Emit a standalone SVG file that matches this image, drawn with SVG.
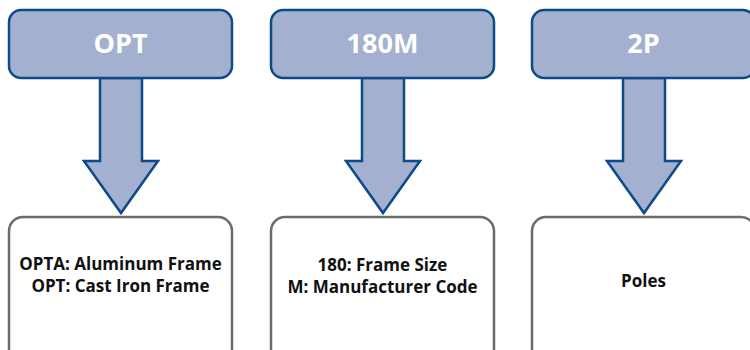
<svg xmlns="http://www.w3.org/2000/svg" width="750" height="350" viewBox="0 0 750 350">
  <style>
    .head { fill: #a3b0cf; stroke: #0c4a89; stroke-width: 2.5; }
    .arrow { fill: #a3b0cf; stroke: #0c4a89; stroke-width: 2.5; stroke-linejoin: miter; }
    .card { fill: #ffffff; stroke: #6b6b6b; stroke-width: 2.5; }
    .code { font-family: "Open Sans", "Liberation Sans", sans-serif; font-weight: bold; font-size: 27px; fill: #ffffff; text-anchor: middle; }
    .desc { font-family: "Open Sans", "Liberation Sans", sans-serif; font-weight: bold; font-size: 17px; fill: #111111; text-anchor: middle; }
  </style>
  <rect width="750" height="350" fill="#ffffff"/>

  <!-- arrows linking code headers to their description cards -->
  <g id="connectors">
    <polygon class="arrow" points="100,78 142,78 142,161 158,161 121,213 84,161 100,161"/>
    <polygon class="arrow" points="362,78 404,78 404,161 420,161 383,213 346,161 362,161"/>
    <polygon class="arrow" points="623,78 665,78 665,161 681,161 644,213 607,161 623,161"/>
  </g>

  <g id="code-opt">
    <rect class="head" x="9" y="10" width="223" height="68" rx="12"/>
    <text class="code" x="120.5" y="53">OPT</text>
  </g>
  <g id="code-180m">
    <rect class="head" x="271" y="10" width="223" height="68" rx="12"/>
    <text class="code" x="382.5" y="53">180M</text>
  </g>
  <g id="code-2p">
    <rect class="head" x="532" y="10" width="223" height="68" rx="12"/>
    <text class="code" x="643.5" y="53">2P</text>
  </g>

  <g id="desc-opt">
    <rect class="card" x="9" y="217" width="223" height="150" rx="14"/>
    <text class="desc" x="120.5" y="270">OPTA: Aluminum Frame</text>
    <text class="desc" x="120.5" y="292">OPT: Cast Iron Frame</text>
  </g>
  <g id="desc-180m">
    <rect class="card" x="271" y="217" width="223" height="150" rx="14"/>
    <text class="desc" x="382.5" y="271">180: Frame Size</text>
    <text class="desc" x="382.5" y="293">M: Manufacturer Code</text>
  </g>
  <g id="desc-2p">
    <rect class="card" x="532" y="217" width="223" height="150" rx="14"/>
    <text class="desc" x="643.5" y="287">Poles</text>
  </g>
</svg>
